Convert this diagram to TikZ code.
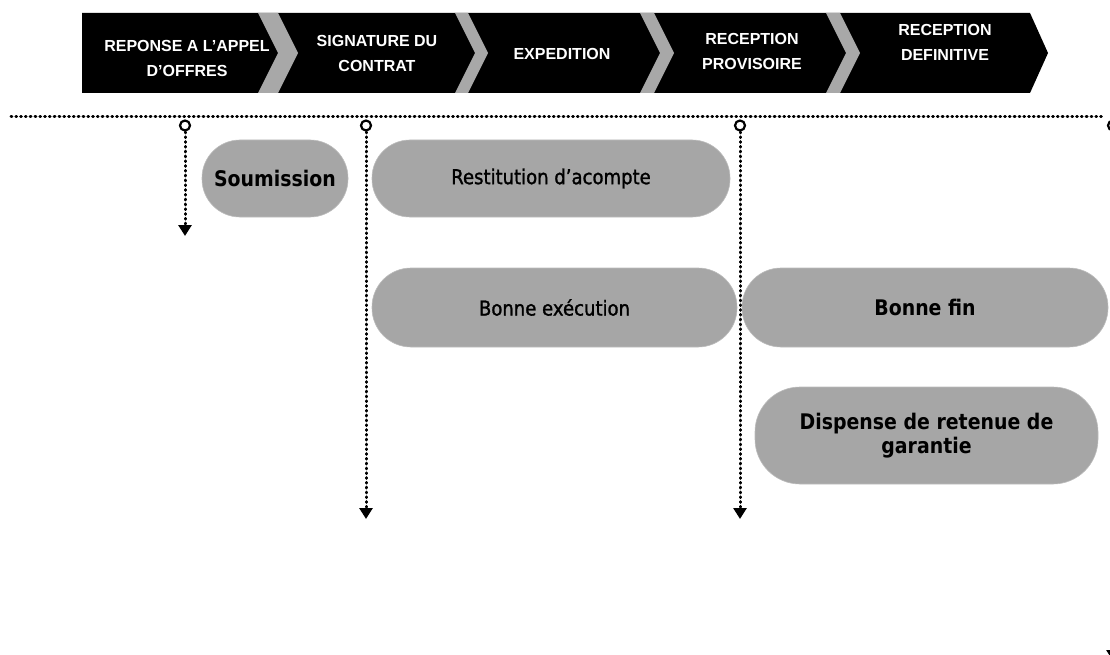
\documentclass[tikz,border=0pt]{standalone}
\usepackage{fontspec}
\setmainfont{Liberation Sans}
\newfontfamily\pillfont{DejaVu Sans}[FakeStretch=0.88]
\newfontfamily\pillmedfont{DejaVu Sans}[FakeStretch=0.88, FakeBold=1.3]
\usetikzlibrary{arrows.meta}
\definecolor{pillgray}{HTML}{A6A6A6}
\definecolor{bandgray}{HTML}{A8A8A8}
\begin{document}
\begin{tikzpicture}[x=1pt,y=-1pt,
  stage/.style={text=white, font=\bfseries\fontsize{16}{25}\selectfont, align=center, inner sep=0pt},
  pill/.style={fill=pillgray, draw=pillgray!75!white, line width=0.6pt, inner sep=0pt, align=center},
  pillbold/.style={pill, font=\pillfont\bfseries\fontsize{21.5}{24}\selectfont},
  pillmed/.style={pill, font=\pillmedfont\fontsize{20.5}{24}\selectfont},
  dotline/.style={line width=3pt, dash pattern=on 0.8pt off 4pt, line cap=round},
  marker/.style={circle, draw, line width=2.2pt, fill=white, minimum size=10pt, inner sep=0pt},
  drop/.style={dotline, -{Triangle[width=13pt,length=11pt]}}]
\useasboundingbox (0,0) rectangle (1110,655);

% black process band
\fill[black] (82,13) -- (1030,13) -- (1048,53) -- (1030,93) -- (82,93) -- cycle;
% grey chevrons separating the stages
\foreach \a/\b in {258/278, 455/468, 640/654, 826/840}
  \fill[bandgray] (\a,13) -- (\b,13) -- (\b+20,53) -- (\b,93) -- (\a,93) -- (\a+20,53) -- cycle;

\node[stage] (s1) at (187,58) {REPONSE A L’APPEL\\D’OFFRES};
\node[stage] (s2) at (377,53.5) {SIGNATURE DU\\CONTRAT};
\node[stage] (s3) at (562,54) {EXPEDITION};
\node[stage] (s4) at (752,51) {RECEPTION\\PROVISOIRE};
\node[stage] (s5) at (945,42) {RECEPTION\\DEFINITIVE};

% time line
\coordinate (hl) at (11,117);
\coordinate (hr) at (1104,117);
\draw[dotline] (hl) -- (hr);

\coordinate (e1) at (185,236);
\coordinate (e2) at (366,519);
\coordinate (e3) at (740,519);
\coordinate (e4) at (1113,661);
\draw[drop] (185,132) -- (e1);
\draw[drop] (366,132) -- (e2);
\draw[drop] (740,132) -- (e3);
\draw[drop] (1113,132) -- (e4);

\node[marker] (c1) at (185,125.5) {};
\node[marker] (c2) at (366,125.5) {};
\node[marker] (c3) at (740,125.5) {};
\node[marker] (c4) at (1113,125.5) {};

% guarantees
\node[pillbold, minimum width=146pt, minimum height=77pt, rounded corners=38pt] (soum) at (275,178.5) {Soumission};
\node[pillmed, minimum width=358pt, minimum height=77pt, rounded corners=38pt] (resti) at (551,178.5) {Restitution d’acompte};
\node[pillmed, minimum width=365pt, minimum height=79pt, rounded corners=39pt] (bexec) at (554.5,307.5) {Bonne exécution};
\node[pillbold, minimum width=366pt, minimum height=79pt, rounded corners=39pt] (bfin) at (925,307.5) {Bonne fin};
\node[pillbold, minimum width=343pt, minimum height=97pt, rounded corners=45pt] (disp) at (926.5,435.5) {Dispense de retenue de\\garantie};
\end{tikzpicture}
\end{document}
